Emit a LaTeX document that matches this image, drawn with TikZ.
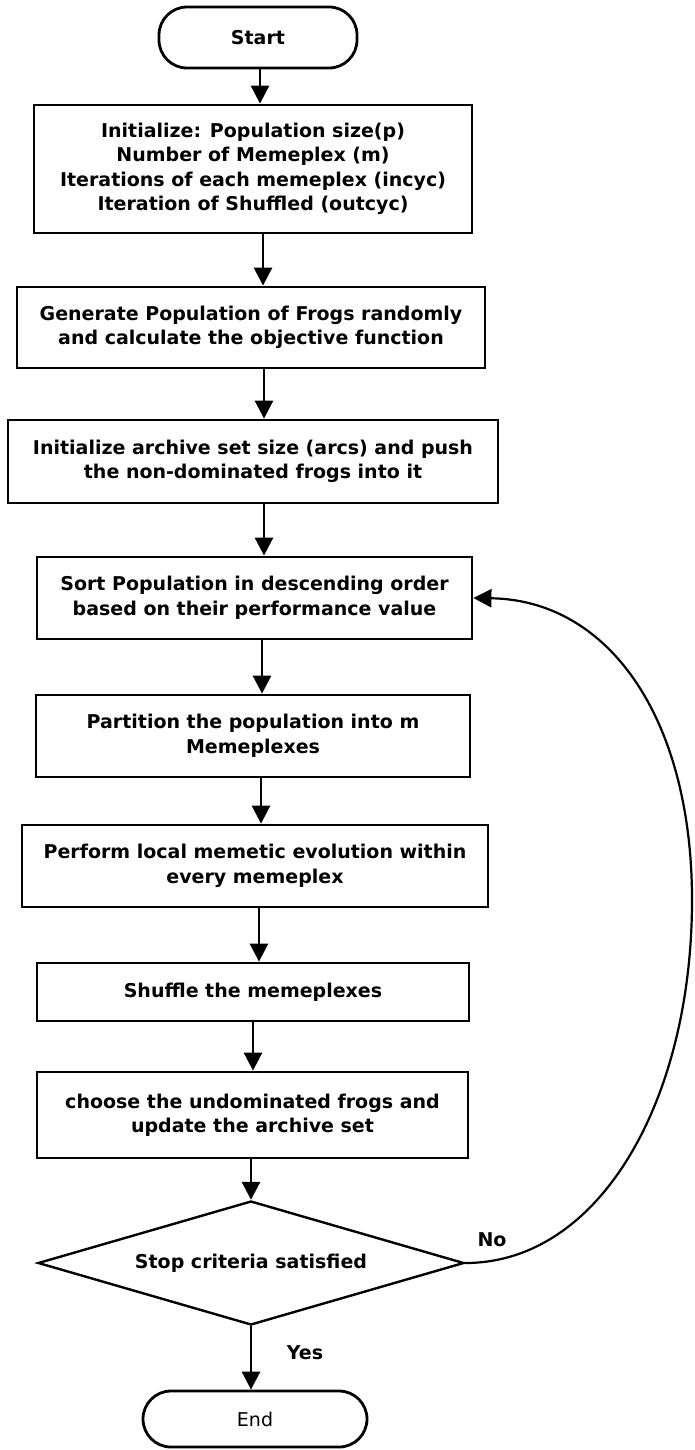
\documentclass[tikz,border=0pt]{standalone}
\usepackage{fontspec}
\setmainfont{DejaVu Sans}
\usetikzlibrary{arrows.meta,shapes.geometric}
\begin{document}
\begin{tikzpicture}[x=1pt,y=-1pt,
  box/.style={draw,line width=2.8pt,rectangle,align=center,inner sep=0pt,
    font=\fontsize{19}{24.5}\selectfont\bfseries},
  term/.style={draw,line width=2.8pt,rectangle,rounded corners=28pt,align=center,inner sep=0pt},
  arr/.style={line width=2.8pt,-{Triangle[width=18pt,length=18pt]}},
  lbl/.style={font=\fontsize{19}{24.5}\selectfont\bfseries}]
\useasboundingbox (0,0) rectangle (695,1450);
\node[term,minimum width=198pt,minimum height=61pt,font=\fontsize{19}{24.5}\selectfont\bfseries] (start) at (258,37.5) {Start};
\node[box,minimum width=438pt,minimum height=128pt] (init) at (253,169) {Initialize: Population size(p)\\Number of Memeplex (m)\\Iterations of each memeplex (incyc)\\Iteration of Shuffled (outcyc)};
\node[box,minimum width=468pt,minimum height=81pt] (gen) at (251,327.5) {Generate Population of Frogs randomly\\and calculate the objective function};
\node[box,minimum width=490pt,minimum height=83pt] (arch) at (253,461.5) {Initialize archive set size (arcs) and push\\the non-dominated frogs into it};
\node[box,minimum width=435pt,minimum height=82pt] (sort) at (254.5,598) {Sort Population in descending order\\based on their performance value};
\node[box,minimum width=434pt,minimum height=82pt] (part) at (253,736) {Partition the population into m\\Memeplexes};
\node[box,minimum width=466pt,minimum height=82pt] (perf) at (255,866) {Perform local memetic evolution within\\every memeplex};
\node[box,minimum width=432pt,minimum height=58pt] (shuf) at (253,992) {Shuffle the memeplexes};
\node[box,minimum width=431pt,minimum height=86pt] (choose) at (252.5,1115) {choose the undominated frogs and\\update the archive set};
\node[box,shape=diamond,aspect=3.44,minimum width=426pt,minimum height=124pt,line width=2.4pt] (dia) at (251,1263) {Stop criteria satisfied};
\node[term,minimum width=224pt,minimum height=56pt,font=\fontsize{19}{24.5}\selectfont] (end) at (255,1419) {End};
\draw[arr] (start.south -| 260,0) -- (init.north -| 260,0);
\draw[arr] (init.south -| 263,0) -- (gen.north -| 263,0);
\draw[arr] (gen.south -| 264,0) -- (arch.north -| 264,0);
\draw[arr] (arch.south -| 264,0) -- (sort.north -| 264,0);
\draw[arr] (sort.south -| 262,0) -- (part.north -| 262,0);
\draw[arr] (part.south -| 261,0) -- (perf.north -| 261,0);
\draw[arr] (perf.south -| 259,0) -- (shuf.north -| 259,0);
\draw[arr] (shuf.south -| 253,0) -- (choose.north -| 253,0);
\draw[arr] (choose.south -| dia.north) -- (dia.north);
\draw[arr] (dia.south) -- (end.north -| dia.south);
\draw[line width=2.2pt,-{Triangle[width=18pt,length=18pt]}] (dia.east) .. controls (600,1263) and (692,1100) .. (692,900) .. controls (692,720) and (610,600) .. (sort.east);
\node[lbl] (no) at (492,1240) {No};
\node[lbl] (yes) at (305,1353) {Yes};
\end{tikzpicture}
\end{document}
